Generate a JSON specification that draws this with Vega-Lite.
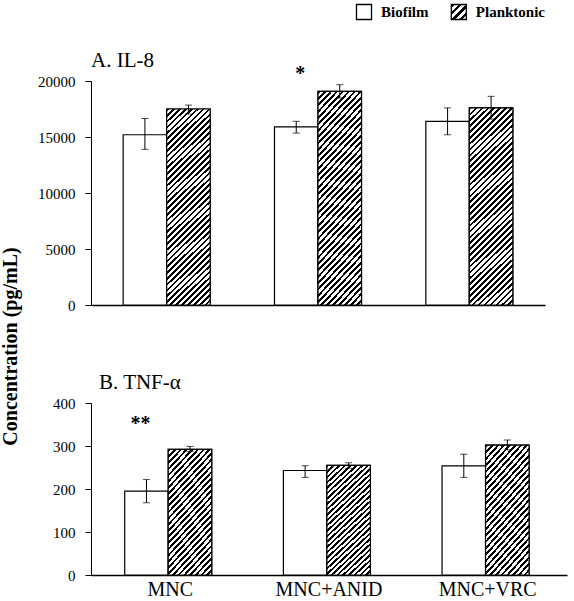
{
"$schema": "https://vega.github.io/schema/vega-lite/v6.json",
"padding": {"left": 0, "top": 1, "right": 5, "bottom": 0},
"background": "white",
"bounds": "flush",
"spacing": 62,
"datasets": {
"legend": [{"group": "Biofilm"}, {"group": "Planktonic"}],
"il8": [
{"cat": "MNC", "group": "Biofilm", "value": 15200, "lo": 13900, "hi": 16650},
{"cat": "MNC", "group": "Planktonic", "value": 17500, "lo": 17050, "hi": 17850},
{"cat": "MNC+ANID", "group": "Biofilm", "value": 15900, "lo": 15350, "hi": 16400},
{"cat": "MNC+ANID", "group": "Planktonic", "value": 19080, "lo": 18480, "hi": 19670},
{"cat": "MNC+VRC", "group": "Biofilm", "value": 16400, "lo": 15200, "hi": 17600},
{"cat": "MNC+VRC", "group": "Planktonic", "value": 17600, "lo": 16600, "hi": 18630}
],
"tnf": [
{"cat": "MNC", "group": "Biofilm", "value": 195, "lo": 168, "hi": 222},
{"cat": "MNC", "group": "Planktonic", "value": 292, "lo": 287, "hi": 299},
{"cat": "MNC+ANID", "group": "Biofilm", "value": 243, "lo": 227, "hi": 254},
{"cat": "MNC+ANID", "group": "Planktonic", "value": 255, "lo": 248, "hi": 261},
{"cat": "MNC+VRC", "group": "Biofilm", "value": 254, "lo": 227, "hi": 281},
{"cat": "MNC+VRC", "group": "Planktonic", "value": 302, "lo": 291, "hi": 314}
],
"il8_sig": [{"cat": "MNC+ANID", "group": "Biofilm", "value": 20650, "label": "*"}],
"tnf_sig": [{"cat": "MNC", "group": "Biofilm", "value": 351, "label": "**"}]
},
"config": {
"view": {"stroke": null},
"font": "Liberation Serif",
"axis": {"domainColor": "#000", "tickColor": "#000", "labelColor": "#000", "labelFont": "Liberation Serif", "grid": false, "labelFontSize": 15, "tickSize": 6, "labelPadding": 10, "domainWidth": 1},
"axisX": {"ticks": false, "labelPadding": 4, "labelFontSize": 20, "domainWidth": 1.5, "labelAngle": 0}
},
"vconcat": [
{
"width": 454, "height": 14,
"data": {"name": "legend"},
"encoding": {"x": {"field": "group", "type": "nominal", "scale": {"type": "point", "range": [273, 367.8], "padding": 0}, "axis": null}},
"layer": [
{"transform": [{"filter": "datum.group === 'Biofilm'"}],
"mark": {"type": "square", "size": 225, "filled": true, "fill": "#fff", "stroke": "#000", "strokeWidth": 1.3, "opacity": 1}},
{"transform": [{"filter": "datum.group === 'Planktonic'"}],
"mark": {"type": "square", "size": 225, "filled": true, "stroke": "#000", "strokeWidth": 1.3, "opacity": 1, "fill": {"gradient": "linear", "x1": 0, "y1": 0, "x2": 1, "y2": 1, "stops": [
{"offset": 0, "color": "#000"}, {"offset": 0.1125, "color": "#000"}, {"offset": 0.1125, "color": "#fff"}, {"offset": 0.25, "color": "#fff"},
{"offset": 0.25, "color": "#000"}, {"offset": 0.3625, "color": "#000"}, {"offset": 0.3625, "color": "#fff"}, {"offset": 0.5, "color": "#fff"},
{"offset": 0.5, "color": "#000"}, {"offset": 0.6125, "color": "#000"}, {"offset": 0.6125, "color": "#fff"}, {"offset": 0.75, "color": "#fff"},
{"offset": 0.75, "color": "#000"}, {"offset": 0.8625, "color": "#000"}, {"offset": 0.8625, "color": "#fff"}, {"offset": 1, "color": "#fff"}
]}}},
{"mark": {"type": "text", "align": "left", "baseline": "middle", "dx": 17, "font": "Liberation Serif", "fontSize": 15, "fontWeight": "bold", "color": "#000"},
"encoding": {"text": {"field": "group"}}}
]
},
{
"bounds": "flush",
"spacing": 98,
"vconcat": [
{
"width": 454, "height": 224,
"title": {"text": "A. IL-8", "anchor": "start", "frame": "group", "font": "Liberation Serif", "fontSize": 21, "fontWeight": "normal", "color": "#000", "baseline": "alphabetic", "offset": -24},
"data": {"name": "il8"},
"encoding": {
"x": {"field": "cat", "type": "nominal", "sort": ["MNC", "MNC+ANID", "MNC+VRC"], "scale": {"paddingInner": 0.425, "paddingOuter": 0.2125}, "axis": {"labels": false, "ticks": false, "title": null}},
"xOffset": {"field": "group", "type": "nominal", "sort": ["Biofilm", "Planktonic"]}
},
"layer": [
{"mark": {"type": "bar", "stroke": "#000", "strokeWidth": 1.2, "fill": "#fff"},
"encoding": {
"y": {"field": "value", "type": "quantitative", "title": "Concentration (pg/mL)", "scale": {"domain": [0, 20000], "nice": false},
"axis": {"values": [0, 5000, 10000, 15000, 20000], "format": "d", "title": "Concentration (pg/mL)", "titleX": -91, "titleY": 265, "titleAngle": 270, "titleBaseline": "top", "titleAlign": "center", "titleFontSize": 20, "titleFontWeight": "bold", "titleFont": "Liberation Serif", "titleColor": "#000"}}
}},
{"transform": [{"filter": "datum.group === 'Planktonic'"}],
"mark": {"type": "bar", "stroke": "#000", "strokeWidth": 1.2, "fill": {"gradient": "linear", "x1": 0, "y1": 0, "x2": 0.2529, "y2": 1.1626, "stops": [
{"offset": 0, "color": "#000"}, {"offset": 0.011, "color": "#000"}, {"offset": 0.011, "color": "#fff"}, {"offset": 0.0244, "color": "#fff"},
{"offset": 0.0244, "color": "#000"}, {"offset": 0.0354, "color": "#000"}, {"offset": 0.0354, "color": "#fff"}, {"offset": 0.0488, "color": "#fff"},
{"offset": 0.0488, "color": "#000"}, {"offset": 0.0598, "color": "#000"}, {"offset": 0.0598, "color": "#fff"}, {"offset": 0.0732, "color": "#fff"},
{"offset": 0.0732, "color": "#000"}, {"offset": 0.0841, "color": "#000"}, {"offset": 0.0841, "color": "#fff"}, {"offset": 0.0976, "color": "#fff"},
{"offset": 0.0976, "color": "#000"}, {"offset": 0.1085, "color": "#000"}, {"offset": 0.1085, "color": "#fff"}, {"offset": 0.122, "color": "#fff"},
{"offset": 0.122, "color": "#000"}, {"offset": 0.1329, "color": "#000"}, {"offset": 0.1329, "color": "#fff"}, {"offset": 0.1463, "color": "#fff"},
{"offset": 0.1463, "color": "#000"}, {"offset": 0.1573, "color": "#000"}, {"offset": 0.1573, "color": "#fff"}, {"offset": 0.1707, "color": "#fff"},
{"offset": 0.1707, "color": "#000"}, {"offset": 0.1817, "color": "#000"}, {"offset": 0.1817, "color": "#fff"}, {"offset": 0.1951, "color": "#fff"},
{"offset": 0.1951, "color": "#000"}, {"offset": 0.2061, "color": "#000"}, {"offset": 0.2061, "color": "#fff"}, {"offset": 0.2195, "color": "#fff"},
{"offset": 0.2195, "color": "#000"}, {"offset": 0.2305, "color": "#000"}, {"offset": 0.2305, "color": "#fff"}, {"offset": 0.2439, "color": "#fff"},
{"offset": 0.2439, "color": "#000"}, {"offset": 0.2549, "color": "#000"}, {"offset": 0.2549, "color": "#fff"}, {"offset": 0.2683, "color": "#fff"},
{"offset": 0.2683, "color": "#000"}, {"offset": 0.2793, "color": "#000"}, {"offset": 0.2793, "color": "#fff"}, {"offset": 0.2927, "color": "#fff"},
{"offset": 0.2927, "color": "#000"}, {"offset": 0.3037, "color": "#000"}, {"offset": 0.3037, "color": "#fff"}, {"offset": 0.3171, "color": "#fff"},
{"offset": 0.3171, "color": "#000"}, {"offset": 0.328, "color": "#000"}, {"offset": 0.328, "color": "#fff"}, {"offset": 0.3415, "color": "#fff"},
{"offset": 0.3415, "color": "#000"}, {"offset": 0.3524, "color": "#000"}, {"offset": 0.3524, "color": "#fff"}, {"offset": 0.3659, "color": "#fff"},
{"offset": 0.3659, "color": "#000"}, {"offset": 0.3768, "color": "#000"}, {"offset": 0.3768, "color": "#fff"}, {"offset": 0.3902, "color": "#fff"},
{"offset": 0.3902, "color": "#000"}, {"offset": 0.4012, "color": "#000"}, {"offset": 0.4012, "color": "#fff"}, {"offset": 0.4146, "color": "#fff"},
{"offset": 0.4146, "color": "#000"}, {"offset": 0.4256, "color": "#000"}, {"offset": 0.4256, "color": "#fff"}, {"offset": 0.439, "color": "#fff"},
{"offset": 0.439, "color": "#000"}, {"offset": 0.45, "color": "#000"}, {"offset": 0.45, "color": "#fff"}, {"offset": 0.4634, "color": "#fff"},
{"offset": 0.4634, "color": "#000"}, {"offset": 0.4744, "color": "#000"}, {"offset": 0.4744, "color": "#fff"}, {"offset": 0.4878, "color": "#fff"},
{"offset": 0.4878, "color": "#000"}, {"offset": 0.4988, "color": "#000"}, {"offset": 0.4988, "color": "#fff"}, {"offset": 0.5122, "color": "#fff"},
{"offset": 0.5122, "color": "#000"}, {"offset": 0.5232, "color": "#000"}, {"offset": 0.5232, "color": "#fff"}, {"offset": 0.5366, "color": "#fff"},
{"offset": 0.5366, "color": "#000"}, {"offset": 0.5476, "color": "#000"}, {"offset": 0.5476, "color": "#fff"}, {"offset": 0.561, "color": "#fff"},
{"offset": 0.561, "color": "#000"}, {"offset": 0.572, "color": "#000"}, {"offset": 0.572, "color": "#fff"}, {"offset": 0.5854, "color": "#fff"},
{"offset": 0.5854, "color": "#000"}, {"offset": 0.5963, "color": "#000"}, {"offset": 0.5963, "color": "#fff"}, {"offset": 0.6098, "color": "#fff"},
{"offset": 0.6098, "color": "#000"}, {"offset": 0.6207, "color": "#000"}, {"offset": 0.6207, "color": "#fff"}, {"offset": 0.6341, "color": "#fff"},
{"offset": 0.6341, "color": "#000"}, {"offset": 0.6451, "color": "#000"}, {"offset": 0.6451, "color": "#fff"}, {"offset": 0.6585, "color": "#fff"},
{"offset": 0.6585, "color": "#000"}, {"offset": 0.6695, "color": "#000"}, {"offset": 0.6695, "color": "#fff"}, {"offset": 0.6829, "color": "#fff"},
{"offset": 0.6829, "color": "#000"}, {"offset": 0.6939, "color": "#000"}, {"offset": 0.6939, "color": "#fff"}, {"offset": 0.7073, "color": "#fff"},
{"offset": 0.7073, "color": "#000"}, {"offset": 0.7183, "color": "#000"}, {"offset": 0.7183, "color": "#fff"}, {"offset": 0.7317, "color": "#fff"},
{"offset": 0.7317, "color": "#000"}, {"offset": 0.7427, "color": "#000"}, {"offset": 0.7427, "color": "#fff"}, {"offset": 0.7561, "color": "#fff"},
{"offset": 0.7561, "color": "#000"}, {"offset": 0.7671, "color": "#000"}, {"offset": 0.7671, "color": "#fff"}, {"offset": 0.7805, "color": "#fff"},
{"offset": 0.7805, "color": "#000"}, {"offset": 0.7915, "color": "#000"}, {"offset": 0.7915, "color": "#fff"}, {"offset": 0.8049, "color": "#fff"},
{"offset": 0.8049, "color": "#000"}, {"offset": 0.8159, "color": "#000"}, {"offset": 0.8159, "color": "#fff"}, {"offset": 0.8293, "color": "#fff"},
{"offset": 0.8293, "color": "#000"}, {"offset": 0.8402, "color": "#000"}, {"offset": 0.8402, "color": "#fff"}, {"offset": 0.8537, "color": "#fff"},
{"offset": 0.8537, "color": "#000"}, {"offset": 0.8646, "color": "#000"}, {"offset": 0.8646, "color": "#fff"}, {"offset": 0.878, "color": "#fff"},
{"offset": 0.878, "color": "#000"}, {"offset": 0.889, "color": "#000"}, {"offset": 0.889, "color": "#fff"}, {"offset": 0.9024, "color": "#fff"},
{"offset": 0.9024, "color": "#000"}, {"offset": 0.9134, "color": "#000"}, {"offset": 0.9134, "color": "#fff"}, {"offset": 0.9268, "color": "#fff"},
{"offset": 0.9268, "color": "#000"}, {"offset": 0.9378, "color": "#000"}, {"offset": 0.9378, "color": "#fff"}, {"offset": 0.9512, "color": "#fff"},
{"offset": 0.9512, "color": "#000"}, {"offset": 0.9622, "color": "#000"}, {"offset": 0.9622, "color": "#fff"}, {"offset": 0.9756, "color": "#fff"},
{"offset": 0.9756, "color": "#000"}, {"offset": 0.9866, "color": "#000"}, {"offset": 0.9866, "color": "#fff"}, {"offset": 1, "color": "#fff"}
]}},
"encoding": {"y": {"field": "value", "type": "quantitative", "title": "Concentration (pg/mL)"}}},
{"mark": {"type": "rule", "color": "#000", "strokeWidth": 1},
"encoding": {"y": {"field": "lo", "type": "quantitative", "title": "Concentration (pg/mL)"}, "y2": {"field": "hi"}}},
{"mark": {"type": "tick", "color": "#000", "size": 7, "thickness": 1},
"encoding": {"y": {"field": "lo", "type": "quantitative", "title": "Concentration (pg/mL)"}}},
{"mark": {"type": "tick", "color": "#000", "size": 7, "thickness": 1},
"encoding": {"y": {"field": "hi", "type": "quantitative", "title": "Concentration (pg/mL)"}}},
{"data": {"name": "il8_sig"},
"mark": {"type": "text", "font": "Liberation Serif", "fontSize": 20, "fontWeight": "bold", "baseline": "middle", "color": "#000", "dx": 4},
"encoding": {"y": {"field": "value", "type": "quantitative", "title": "Concentration (pg/mL)"}, "text": {"field": "label"}}}
]
},
{
"width": 476, "height": 172,
"title": {"text": "B. TNF-α", "anchor": "start", "frame": "group", "font": "Liberation Serif", "fontSize": 21, "fontWeight": "normal", "color": "#000", "baseline": "alphabetic", "offset": -14, "dx": 8},
"data": {"name": "tnf"},
"encoding": {
"x": {"field": "cat", "type": "nominal", "sort": ["MNC", "MNC+ANID", "MNC+VRC"], "scale": {"paddingInner": 0.425, "paddingOuter": 0.2125}, "axis": {"title": null}},
"xOffset": {"field": "group", "type": "nominal", "sort": ["Biofilm", "Planktonic"]}
},
"layer": [
{"mark": {"type": "bar", "stroke": "#000", "strokeWidth": 1.2, "fill": "#fff"},
"encoding": {"y": {"field": "value", "type": "quantitative", "title": null, "scale": {"domain": [0, 400], "nice": false}, "axis": {"values": [0, 100, 200, 300, 400], "title": null}}}},
{"transform": [{"filter": "datum.group === 'Planktonic'"}],
"mark": {"type": "bar", "stroke": "#000", "strokeWidth": 1.2, "fill": {"gradient": "linear", "x1": 0, "y1": 0, "x2": 0.4495, "y2": 1.2054, "stops": [
{"offset": 0, "color": "#000"}, {"offset": 0.0161, "color": "#000"}, {"offset": 0.0161, "color": "#fff"}, {"offset": 0.0357, "color": "#fff"},
{"offset": 0.0357, "color": "#000"}, {"offset": 0.0518, "color": "#000"}, {"offset": 0.0518, "color": "#fff"}, {"offset": 0.0714, "color": "#fff"},
{"offset": 0.0714, "color": "#000"}, {"offset": 0.0875, "color": "#000"}, {"offset": 0.0875, "color": "#fff"}, {"offset": 0.1071, "color": "#fff"},
{"offset": 0.1071, "color": "#000"}, {"offset": 0.1232, "color": "#000"}, {"offset": 0.1232, "color": "#fff"}, {"offset": 0.1429, "color": "#fff"},
{"offset": 0.1429, "color": "#000"}, {"offset": 0.1589, "color": "#000"}, {"offset": 0.1589, "color": "#fff"}, {"offset": 0.1786, "color": "#fff"},
{"offset": 0.1786, "color": "#000"}, {"offset": 0.1946, "color": "#000"}, {"offset": 0.1946, "color": "#fff"}, {"offset": 0.2143, "color": "#fff"},
{"offset": 0.2143, "color": "#000"}, {"offset": 0.2304, "color": "#000"}, {"offset": 0.2304, "color": "#fff"}, {"offset": 0.25, "color": "#fff"},
{"offset": 0.25, "color": "#000"}, {"offset": 0.2661, "color": "#000"}, {"offset": 0.2661, "color": "#fff"}, {"offset": 0.2857, "color": "#fff"},
{"offset": 0.2857, "color": "#000"}, {"offset": 0.3018, "color": "#000"}, {"offset": 0.3018, "color": "#fff"}, {"offset": 0.3214, "color": "#fff"},
{"offset": 0.3214, "color": "#000"}, {"offset": 0.3375, "color": "#000"}, {"offset": 0.3375, "color": "#fff"}, {"offset": 0.3571, "color": "#fff"},
{"offset": 0.3571, "color": "#000"}, {"offset": 0.3732, "color": "#000"}, {"offset": 0.3732, "color": "#fff"}, {"offset": 0.3929, "color": "#fff"},
{"offset": 0.3929, "color": "#000"}, {"offset": 0.4089, "color": "#000"}, {"offset": 0.4089, "color": "#fff"}, {"offset": 0.4286, "color": "#fff"},
{"offset": 0.4286, "color": "#000"}, {"offset": 0.4446, "color": "#000"}, {"offset": 0.4446, "color": "#fff"}, {"offset": 0.4643, "color": "#fff"},
{"offset": 0.4643, "color": "#000"}, {"offset": 0.4804, "color": "#000"}, {"offset": 0.4804, "color": "#fff"}, {"offset": 0.5, "color": "#fff"},
{"offset": 0.5, "color": "#000"}, {"offset": 0.5161, "color": "#000"}, {"offset": 0.5161, "color": "#fff"}, {"offset": 0.5357, "color": "#fff"},
{"offset": 0.5357, "color": "#000"}, {"offset": 0.5518, "color": "#000"}, {"offset": 0.5518, "color": "#fff"}, {"offset": 0.5714, "color": "#fff"},
{"offset": 0.5714, "color": "#000"}, {"offset": 0.5875, "color": "#000"}, {"offset": 0.5875, "color": "#fff"}, {"offset": 0.6071, "color": "#fff"},
{"offset": 0.6071, "color": "#000"}, {"offset": 0.6232, "color": "#000"}, {"offset": 0.6232, "color": "#fff"}, {"offset": 0.6429, "color": "#fff"},
{"offset": 0.6429, "color": "#000"}, {"offset": 0.6589, "color": "#000"}, {"offset": 0.6589, "color": "#fff"}, {"offset": 0.6786, "color": "#fff"},
{"offset": 0.6786, "color": "#000"}, {"offset": 0.6946, "color": "#000"}, {"offset": 0.6946, "color": "#fff"}, {"offset": 0.7143, "color": "#fff"},
{"offset": 0.7143, "color": "#000"}, {"offset": 0.7304, "color": "#000"}, {"offset": 0.7304, "color": "#fff"}, {"offset": 0.75, "color": "#fff"},
{"offset": 0.75, "color": "#000"}, {"offset": 0.7661, "color": "#000"}, {"offset": 0.7661, "color": "#fff"}, {"offset": 0.7857, "color": "#fff"},
{"offset": 0.7857, "color": "#000"}, {"offset": 0.8018, "color": "#000"}, {"offset": 0.8018, "color": "#fff"}, {"offset": 0.8214, "color": "#fff"},
{"offset": 0.8214, "color": "#000"}, {"offset": 0.8375, "color": "#000"}, {"offset": 0.8375, "color": "#fff"}, {"offset": 0.8571, "color": "#fff"},
{"offset": 0.8571, "color": "#000"}, {"offset": 0.8732, "color": "#000"}, {"offset": 0.8732, "color": "#fff"}, {"offset": 0.8929, "color": "#fff"},
{"offset": 0.8929, "color": "#000"}, {"offset": 0.9089, "color": "#000"}, {"offset": 0.9089, "color": "#fff"}, {"offset": 0.9286, "color": "#fff"},
{"offset": 0.9286, "color": "#000"}, {"offset": 0.9446, "color": "#000"}, {"offset": 0.9446, "color": "#fff"}, {"offset": 0.9643, "color": "#fff"},
{"offset": 0.9643, "color": "#000"}, {"offset": 0.9804, "color": "#000"}, {"offset": 0.9804, "color": "#fff"}, {"offset": 1, "color": "#fff"}
]}},
"encoding": {"y": {"field": "value", "type": "quantitative", "title": null}}},
{"mark": {"type": "rule", "color": "#000", "strokeWidth": 1},
"encoding": {"y": {"field": "lo", "type": "quantitative", "title": null}, "y2": {"field": "hi"}}},
{"mark": {"type": "tick", "color": "#000", "size": 7, "thickness": 1},
"encoding": {"y": {"field": "lo", "type": "quantitative", "title": null}}},
{"mark": {"type": "tick", "color": "#000", "size": 7, "thickness": 1},
"encoding": {"y": {"field": "hi", "type": "quantitative", "title": null}}},
{"data": {"name": "tnf_sig"},
"mark": {"type": "text", "font": "Liberation Serif", "fontSize": 20, "fontWeight": "bold", "baseline": "middle", "color": "#000", "dx": -6},
"encoding": {"y": {"field": "value", "type": "quantitative", "title": null}, "text": {"field": "label"}}}
]
}
]
}
]
}
